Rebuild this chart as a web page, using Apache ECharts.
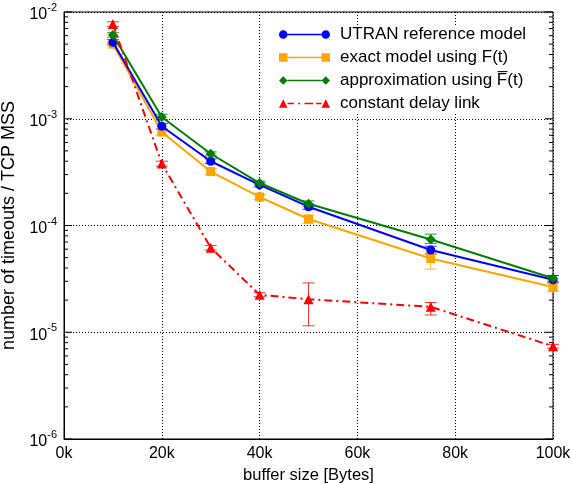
<!DOCTYPE html>
<html>
<head>
<meta charset="utf-8">
<script src="https://cdn.jsdelivr.net/npm/echarts@6/dist/echarts.min.js"></script>
<style>
  html, body { margin: 0; padding: 0; background: #fff; }
  #chart { width: 572px; height: 484px; }
</style>
</head>
<body>
<div id="chart"></div>
<script>
var bufferSizes = [10000, 20000, 30000, 40000, 50000, 75000, 100000];

var utranRef   = [5.2e-3, 8.5e-4, 4.0e-4, 2.4e-4, 1.5e-4, 5.9e-5, 3.1e-5];
var utranLow   = [5.0e-3, 8.0e-4, 3.8e-4, 2.3e-4, 1.42e-4, 5.4e-5, 2.9e-5];
var utranHigh  = [5.5e-3, 9.0e-4, 4.2e-4, 2.5e-4, 1.58e-4, 6.4e-5, 3.4e-5];

var exactModel = [5.0e-3, 7.5e-4, 3.2e-4, 1.85e-4, 1.15e-4, 4.9e-5, 2.65e-5];
var exactLow   = [4.8e-3, 7.0e-4, 3.0e-4, 1.75e-4, 1.05e-4, 3.9e-5, 2.4e-5];
var exactHigh  = [5.2e-3, 8.0e-4, 3.4e-4, 1.95e-4, 1.25e-4, 5.6e-5, 2.9e-5];

var approxModel = [6.1e-3, 1.04e-3, 4.7e-4, 2.5e-4, 1.6e-4, 7.4e-5, 3.2e-5];
var approxLow   = [5.8e-3, 9.8e-4, 4.5e-4, 2.4e-4, 1.5e-4, 6.8e-5, 3.0e-5];
var approxHigh  = [6.4e-3, 1.1e-3, 4.9e-4, 2.6e-4, 1.7e-4, 8.3e-5, 3.4e-5];

var constDelay = [7.7e-3, 3.8e-4, 6.2e-5, 2.24e-5, 2.04e-5, 1.73e-5, 7.4e-6];
var constLow   = [7.3e-3, 3.6e-4, 5.9e-5, 2.15e-5, 1.15e-5, 1.45e-5, 7.1e-6];
var constHigh  = [8.1e-3, 4.0e-4, 6.5e-5, 2.35e-5, 2.9e-5, 1.9e-5, 7.7e-6];

var minorTickValues = [];
[1e-6, 1e-5, 1e-4, 1e-3].forEach(function (d) {
  for (var k = 2; k <= 9; k++) minorTickValues.push(k * d);
});
var majorTickValues = [1e-6, 1e-5, 1e-4, 1e-3, 1e-2];

var FONT = 'Liberation Sans, Arial, sans-serif';

function pairs(ys) {
  return bufferSizes.map(function (x, i) { return [x, ys[i]]; });
}
function errData(lo, hi) {
  return bufferSizes.map(function (x, i) { return [x, lo[i], hi[i]]; });
}
function errSeries(name, lo, hi, color) {
  return {
    type: 'custom',
    name: name + ' err',
    data: errData(lo, hi),
    z: 3,
    silent: true,
    renderItem: function (params, api) {
      var a = api.coord([api.value(0), api.value(1)]);
      var b = api.coord([api.value(0), api.value(2)]);
      var w = 6;
      var st = { stroke: color, lineWidth: 1, opacity: 0.8 };
      return {
        type: 'group',
        children: [
          { type: 'line', shape: { x1: a[0], y1: a[1], x2: b[0], y2: b[1] }, style: st },
          { type: 'line', shape: { x1: a[0] - w, y1: a[1], x2: a[0] + w, y2: a[1] }, style: st },
          { type: 'line', shape: { x1: b[0] - w, y1: b[1], x2: b[0] + w, y2: b[1] }, style: st }
        ]
      };
    }
  };
}

// inward tick marks on both sides of the log axis
function tickSeries(values, len) {
  return {
    type: 'custom',
    data: values.map(function (v) { return [0, v]; }),
    silent: true,
    z: 1,
    renderItem: function (params, api) {
      var p = api.coord([0, api.value(1)]);
      var r = api.coord([100000, api.value(1)]);
      var st = { stroke: '#000', lineWidth: 1 };
      return {
        type: 'group',
        children: [
          { type: 'line', shape: { x1: p[0], y1: p[1], x2: p[0] + len, y2: p[1] }, style: st },
          { type: 'line', shape: { x1: r[0], y1: r[1], x2: r[0] - len, y2: r[1] }, style: st }
        ]
      };
    }
  };
}

var iconCircle = 'path://M1,5 A4,4 0 1,1 9,5 A4,4 0 1,1 1,5 Z M9,4.2 L41,4.2 L41,5.8 L9,5.8 Z M41,5 A4,4 0 1,1 49,5 A4,4 0 1,1 41,5 Z';
var iconSquare = 'path://M1,1 L9,1 L9,9 L1,9 Z M9,4.2 L41,4.2 L41,5.8 L9,5.8 Z M41,1 L49,1 L49,9 L41,9 Z';
var iconDiamond = 'path://M5,1 L9,5 L5,9 L1,5 Z M9,4.2 L41,4.2 L41,5.8 L9,5.8 Z M45,1 L49,5 L45,9 L41,5 Z';
var iconTriangle = 'path://M5,1 L9,9 L1,9 Z M9,4.2 L15,4.2 L15,5.8 L9,5.8 Z M19,4.2 L21,4.2 L21,5.8 L19,5.8 Z M25,4.2 L33,4.2 L33,5.8 L25,5.8 Z M36,4.2 L41,4.2 L41,5.8 L36,5.8 Z M45,1 L49,9 L41,9 Z';

var chart = echarts.init(document.getElementById('chart'));
chart.setOption({
  backgroundColor: '#fff',
  animation: false,
  textStyle: { fontFamily: FONT },
  grid: {
    left: 64, right: 19, top: 12, bottom: 45,
    outerBoundsMode: 'none', containLabel: false,
    show: true, borderColor: '#000', borderWidth: 1
  },
  legend: {
    orient: 'vertical',
    left: 279,
    top: 25,
    itemWidth: 51,
    itemHeight: 11,
    itemGap: 4,
    backgroundColor: '#fff',
    padding: [0, 10, 0, 0],
    textStyle: { fontFamily: FONT, fontSize: 17, color: '#000', padding: [0, 0, 0, 5], lineHeight: 19 },
    data: [
      { name: 'UTRAN reference model', icon: iconCircle },
      { name: 'exact model using F(t)', icon: iconSquare },
      { name: 'approximation using F\u0305(t)', icon: iconDiamond },
      { name: 'constant delay link', icon: iconTriangle }
    ]
  },
  xAxis: {
    type: 'value',
    min: 0,
    max: 100000,
    interval: 20000,
    name: 'buffer size [Bytes]',
    nameLocation: 'middle',
    nameGap: 28,
    nameTextStyle: { fontSize: 16.5, color: '#000', fontFamily: FONT },
    axisLine: { show: true, lineStyle: { color: '#000' } },
    axisTick: { show: false },
    axisLabel: {
      fontSize: 16, color: '#000', margin: 7,
      formatter: function (v) { return (v / 1000) + 'k'; }
    },
    splitLine: { show: true, lineStyle: { color: '#000', type: [1, 2], width: 1 } }
  },
  yAxis: {
    type: 'log',
    logBase: 10,
    min: 1e-6,
    max: 1e-2,
    name: 'number of timeouts / TCP MSS',
    nameLocation: 'middle',
    nameGap: 46,
    nameTextStyle: { fontSize: 18, color: '#000', fontFamily: FONT },
    axisLine: { show: true, lineStyle: { color: '#000' } },
    axisTick: { show: false },
    axisLabel: {
      margin: 7,
      formatter: function (v) {
        var e = Math.round(Math.log10(v));
        return '{b|10}{s|' + e + '}';
      },
      rich: {
        b: { fontSize: 16, color: '#000', fontFamily: FONT, padding: [6, 0, 0, 0] },
        s: { fontSize: 11, color: '#000', fontFamily: FONT, padding: [0, 0, 8, 0] }
      }
    },
    splitLine: { show: true, lineStyle: { color: '#000', type: [1, 2], width: 1 } }
  },
  series: [
    tickSeries(minorTickValues, 4),
    tickSeries(majorTickValues, 8),
    errSeries('UTRAN', utranLow, utranHigh, '#0000ff'),
    errSeries('exact', exactLow, exactHigh, '#ffa500'),
    errSeries('approx', approxLow, approxHigh, '#008000'),
    errSeries('const', constLow, constHigh, '#ff0000'),
    {
      name: 'UTRAN reference model',
      type: 'line',
      data: pairs(utranRef),
      symbol: 'circle', symbolSize: 9, z: 5,
      itemStyle: { color: '#0000ff' },
      lineStyle: { color: '#0000ff', width: 2 }
    },
    {
      name: 'exact model using F(t)',
      type: 'line',
      data: pairs(exactModel),
      symbol: 'rect', symbolSize: 9, z: 4,
      itemStyle: { color: '#ffa500' },
      lineStyle: { color: '#ffa500', width: 2 }
    },
    {
      name: 'approximation using F\u0305(t)',
      type: 'line',
      data: pairs(approxModel),
      symbol: 'diamond', symbolSize: 10, z: 6,
      itemStyle: { color: '#008000' },
      lineStyle: { color: '#008000', width: 2 }
    },
    {
      name: 'constant delay link',
      type: 'line',
      data: pairs(constDelay),
      symbol: 'triangle', symbolSize: 10, z: 7,
      itemStyle: { color: '#ff0000' },
      lineStyle: { color: '#ff0000', width: 2, type: [8, 4, 2, 4] }
    }
  ]
});
</script>
</body>
</html>
